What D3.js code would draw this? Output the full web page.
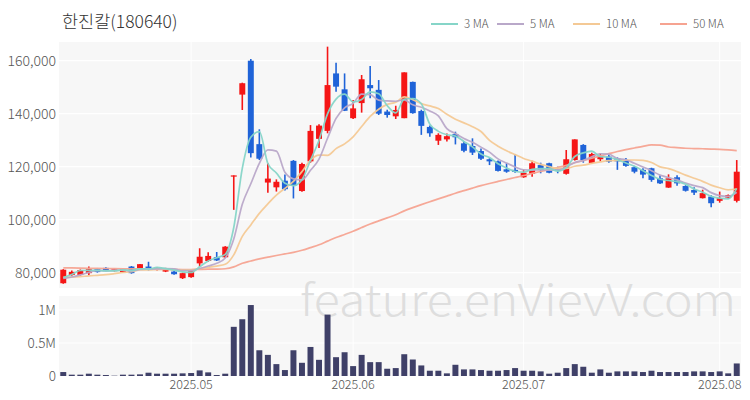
<!DOCTYPE html>
<html>
<head>
<meta charset="utf-8">
<script src="https://cdn.jsdelivr.net/npm/d3@7/dist/d3.min.js"></script>
<style>
  html, body { margin: 0; padding: 0; background: #ffffff; }
  svg { display: block; }
  text { font-family: "Noto Sans CJK KR", "Noto Sans", sans-serif; font-weight: 300; }
</style>
</head>
<body>
<svg id="chart" width="750" height="400"></svg>
<script>
// ---------------- data ----------------
const title = "한진칼(180640)";
const dates = [
  "2025-04-10","2025-04-11","2025-04-14","2025-04-15","2025-04-16","2025-04-17","2025-04-18",
  "2025-04-21","2025-04-22","2025-04-23","2025-04-24","2025-04-25","2025-04-28","2025-04-29","2025-04-30",
  "2025-05-02","2025-05-07","2025-05-08","2025-05-09","2025-05-12","2025-05-13","2025-05-14","2025-05-15",
  "2025-05-16","2025-05-19","2025-05-20","2025-05-21","2025-05-22","2025-05-23","2025-05-26","2025-05-27",
  "2025-05-28","2025-05-29","2025-05-30",
  "2025-06-02","2025-06-03","2025-06-04","2025-06-05","2025-06-09","2025-06-10","2025-06-11","2025-06-12",
  "2025-06-13","2025-06-16","2025-06-17","2025-06-18","2025-06-19","2025-06-20","2025-06-23","2025-06-24",
  "2025-06-25","2025-06-26","2025-06-27","2025-06-30",
  "2025-07-01","2025-07-02","2025-07-03","2025-07-04","2025-07-07","2025-07-08","2025-07-09","2025-07-10",
  "2025-07-11","2025-07-14","2025-07-15","2025-07-16","2025-07-17","2025-07-18","2025-07-21","2025-07-22",
  "2025-07-23","2025-07-24","2025-07-25","2025-07-28","2025-07-29","2025-07-30","2025-07-31",
  "2025-08-01","2025-08-04","2025-08-05"
];
const opens = [76000,79100,79100,79800,81300,81800,80600,80200,82300,81300,82300,81000,80400,80400,77900,
  78300,83500,84400,85800,85800,116700,147200,160000,128500,114000,112200,114700,122200,110800,122000,
  130500,133500,155200,149200,138300,144000,150800,149000,140800,139000,138300,152000,141000,135000,129800,
  130300,132300,128800,127800,125900,122800,122000,119000,118800,116000,117300,120600,121300,119000,117300,
  122500,128200,121400,122800,123800,123200,122300,119800,118800,119400,115600,112100,116000,112700,111200,
  108100,108700,107100,108300,107100];
const highs = [81300,80800,81200,82300,81500,82000,81500,81500,82500,83300,84100,82000,81800,80600,80000,
  81200,89200,87700,87800,90000,116700,151700,160600,134100,121300,115200,117000,122500,121500,135700,
  136000,165300,159200,155200,145200,154600,158000,152700,141500,143000,155600,152100,141500,135500,132600,
  132500,133200,129700,130700,126900,123200,122300,121300,124700,118700,122200,121500,121500,120000,126300,
  130300,128500,125300,125000,125000,123500,123300,120300,119400,119600,116800,117100,116800,113000,112200,
  111300,109200,110600,109500,122500];
const lows = [75800,78800,78900,79000,80000,80500,80400,80000,79600,81000,80800,80800,80200,79200,77600,
  78100,82300,84000,84400,85500,103700,141400,123500,122500,110200,110600,111000,108000,110500,121500,
  127000,132600,148300,141000,138000,140400,145800,139500,138500,138000,138300,140000,132000,131300,128200,
  129500,128400,125400,124400,122500,120600,118200,117700,117700,115800,116200,117500,117500,117500,117000,
  122300,121500,121200,122000,121500,118800,120000,117500,115600,114300,113500,112000,112800,110600,109300,
  108000,104700,106400,107800,106500];
const closes = [81100,80300,81000,81300,80200,80600,81300,81300,79800,83200,81000,81800,81700,79400,79800,
  81000,86000,86300,84600,89800,116700,151500,125100,123000,115500,114300,111500,112800,121000,133500,
  135500,150800,150200,141100,142000,153000,149600,140000,139500,141400,155600,140200,135400,132600,132000,
  131500,131100,126000,125300,123000,122000,118400,118100,118000,117700,121300,118800,117700,118400,122800,
  130300,122500,124800,124000,121900,122000,120300,118100,117000,115000,113700,115600,113700,110900,110200,
  110000,106200,108100,109300,118100];
// closes before the visible window (estimated), used only to warm up the moving averages
const priorCloses = [83600,83400,83800,83200,83000,83500,83100,82900,83300,83000,82700,82900,83200,82800,
  82500,82900,83100,82600,82400,82800,82600,82300,82700,83000,82500,82200,82600,82900,82400,82100,82500,
  82800,82300,82000,82400,82600,82200,82000,82300,82100,
  79500,79000,78500,78000,78200,77500,77000,76800,76500];
const volumes = [60000,20000,20000,35000,20000,15000,5000,20000,20000,25000,50000,35000,35000,35000,40000,
  45000,85000,55000,15000,35000,745000,860000,1075000,390000,320000,180000,90000,390000,200000,440000,
  245000,930000,285000,360000,150000,320000,210000,210000,110000,120000,330000,250000,160000,80000,80000,
  40000,170000,100000,100000,90000,80000,80000,90000,120000,80000,80000,70000,35000,50000,120000,
  180000,140000,50000,100000,50000,70000,70000,70000,60000,80000,60000,60000,60000,60000,70000,
  70000,60000,70000,40000,190000];
const maPeriods = [3, 5, 10, 50];
const maLabels = ["3 MA", "5 MA", "10 MA", "50 MA"];
const maColors = ["#86d5c8", "#b9a8c9", "#f4c995", "#f6a391"];
const priceTicks = [80000, 100000, 120000, 140000, 160000];
const volumeTicks = [0, 500000, 1000000];
const volumeTickLabels = ["0", "0.5M", "1M"];
const watermark = "feature.enVievV.com";

// ---------------- layout ----------------
const svg = d3.select("#chart");
const left = 59, right = 741;
const pTop = 42, pBottom = 288;
const vTop = 296, vBottom = 376;
const upColor = "#f51616", downColor = "#1f63d8";
const fontFam = "'Noto Sans CJK KR', 'Noto Sans', sans-serif";

const idx = d3.range(closes.length);
const x = d3.scaleBand().domain(idx).range([left, right]).paddingInner(0.3).paddingOuter(0.15);
const cx = i => x(i) + x.bandwidth() / 2;
const y = d3.scaleLinear().domain([74200, 167060]).range([pBottom, pTop]);
const yv = d3.scaleLinear().domain([0, 1212000]).range([vBottom, vTop]);

// panels
svg.append("rect").attr("x", left).attr("y", pTop).attr("width", right - left).attr("height", pBottom - pTop).attr("fill", "#f7f7f7");
svg.append("rect").attr("x", left).attr("y", vTop).attr("width", right - left).attr("height", vBottom - vTop).attr("fill", "#f7f7f7");

// month ticks from dates
const monthIdx = idx.filter(i => i > 0 && dates[i].slice(5, 7) !== dates[i - 1].slice(5, 7));

// grid
svg.append("g").selectAll("line").data(priceTicks).join("line")
  .attr("x1", left).attr("x2", right).attr("y1", d => y(d)).attr("y2", d => y(d))
  .attr("stroke", "#ffffff").attr("stroke-width", 1.2);
svg.append("g").selectAll("line").data(volumeTicks.slice(1)).join("line")
  .attr("x1", left).attr("x2", right).attr("y1", d => yv(d)).attr("y2", d => yv(d))
  .attr("stroke", "#ffffff").attr("stroke-width", 1.2);
svg.append("g").selectAll("line").data(monthIdx).join("line")
  .attr("x1", d => cx(d)).attr("x2", d => cx(d)).attr("y1", pTop).attr("y2", pBottom)
  .attr("stroke", "#ffffff").attr("stroke-width", 1);
svg.append("g").selectAll("line").data(monthIdx).join("line")
  .attr("x1", d => cx(d)).attr("x2", d => cx(d)).attr("y1", vTop).attr("y2", vBottom)
  .attr("stroke", "#ffffff").attr("stroke-width", 1);

// watermark
svg.append("text").attr("x", 300).attr("y", 316).attr("font-size", 44).attr("fill", "#dedede")
  .attr("font-weight", 300).attr("textLength", 436).attr("lengthAdjust", "spacingAndGlyphs").text(watermark);

// y axes
const yAxis = d3.axisLeft(y).tickValues(priceTicks).tickFormat(d3.format(",")).tickSize(0).tickPadding(3);
const gy = svg.append("g").attr("transform", `translate(${left},0)`).call(yAxis);
gy.select(".domain").remove();
gy.selectAll("text").attr("font-size", 14).attr("fill", "#555").attr("font-family", fontFam).attr("font-weight", 300);

const vAxis = d3.axisLeft(yv).tickValues(volumeTicks).tickFormat((d, i) => volumeTickLabels[i]).tickSize(0).tickPadding(3);
const gv = svg.append("g").attr("transform", `translate(${left},0)`).call(vAxis);
gv.select(".domain").remove();
gv.selectAll("text").attr("font-size", 13.5).attr("fill", "#555").attr("font-family", fontFam).attr("font-weight", 300);

// x axis
const xAxis = d3.axisBottom(x).tickValues(monthIdx).tickFormat(i => dates[i].slice(0, 7).replace("-", ".")).tickSize(0).tickPadding(4);
const gx = svg.append("g").attr("transform", `translate(0,${vBottom})`).call(xAxis);
gx.select(".domain").remove();
gx.selectAll("text").attr("font-size", 12.5).attr("fill", "#555").attr("font-family", fontFam).attr("font-weight", 300);

// moving averages
const allCloses = priorCloses.concat(closes);
const off = priorCloses.length;
const maSeries = maPeriods.map(p => idx.map(i => {
  const end = off + i + 1;
  return d3.mean(allCloses.slice(end - p, end));
}));

// candles
const candles = svg.append("g");
candles.selectAll("line").data(idx).join("line")
  .attr("x1", cx).attr("x2", cx)
  .attr("y1", i => y(highs[i])).attr("y2", i => y(lows[i]))
  .attr("stroke", i => closes[i] >= opens[i] ? upColor : downColor).attr("stroke-width", 1.6);
candles.selectAll("rect").data(idx).join("rect")
  .attr("x", i => x(i)).attr("width", x.bandwidth())
  .attr("y", i => y(Math.max(opens[i], closes[i])))
  .attr("height", i => Math.max(1.2, Math.abs(y(opens[i]) - y(closes[i]))))
  .attr("fill", i => closes[i] >= opens[i] ? upColor : downColor);

const line = d3.line().x((d, i) => cx(i)).y(d => y(d)).curve(d3.curveMonotoneX);
svg.append("g").selectAll("path").data(maSeries.slice().reverse()).join("path")
  .attr("d", line).attr("fill", "none")
  .attr("stroke", (d, k) => maColors[maColors.length - 1 - k]).attr("stroke-width", 1.7).attr("stroke-opacity", 0.95);

// volume bars
svg.append("g").selectAll("rect").data(idx).join("rect")
  .attr("x", i => x(i)).attr("width", x.bandwidth())
  .attr("y", i => yv(volumes[i])).attr("height", i => vBottom - yv(volumes[i]))
  .attr("fill", "#3f4068");

// title
svg.append("text").attr("x", 62).attr("y", 28).attr("font-size", 17.5).attr("fill", "#333").attr("font-weight", 300).text(title);

// legend
const legendX = [431, 497, 573, 660];
const lg = svg.append("g");
maLabels.forEach((lab, k) => {
  lg.append("line").attr("x1", legendX[k]).attr("x2", legendX[k] + 27).attr("y1", 24).attr("y2", 24)
    .attr("stroke", maColors[k]).attr("stroke-width", 2);
  lg.append("text").attr("x", legendX[k] + 33).attr("y", 28).attr("font-size", 11.5).attr("fill", "#555").attr("font-weight", 300).text(lab);
});
</script>
</body>
</html>
